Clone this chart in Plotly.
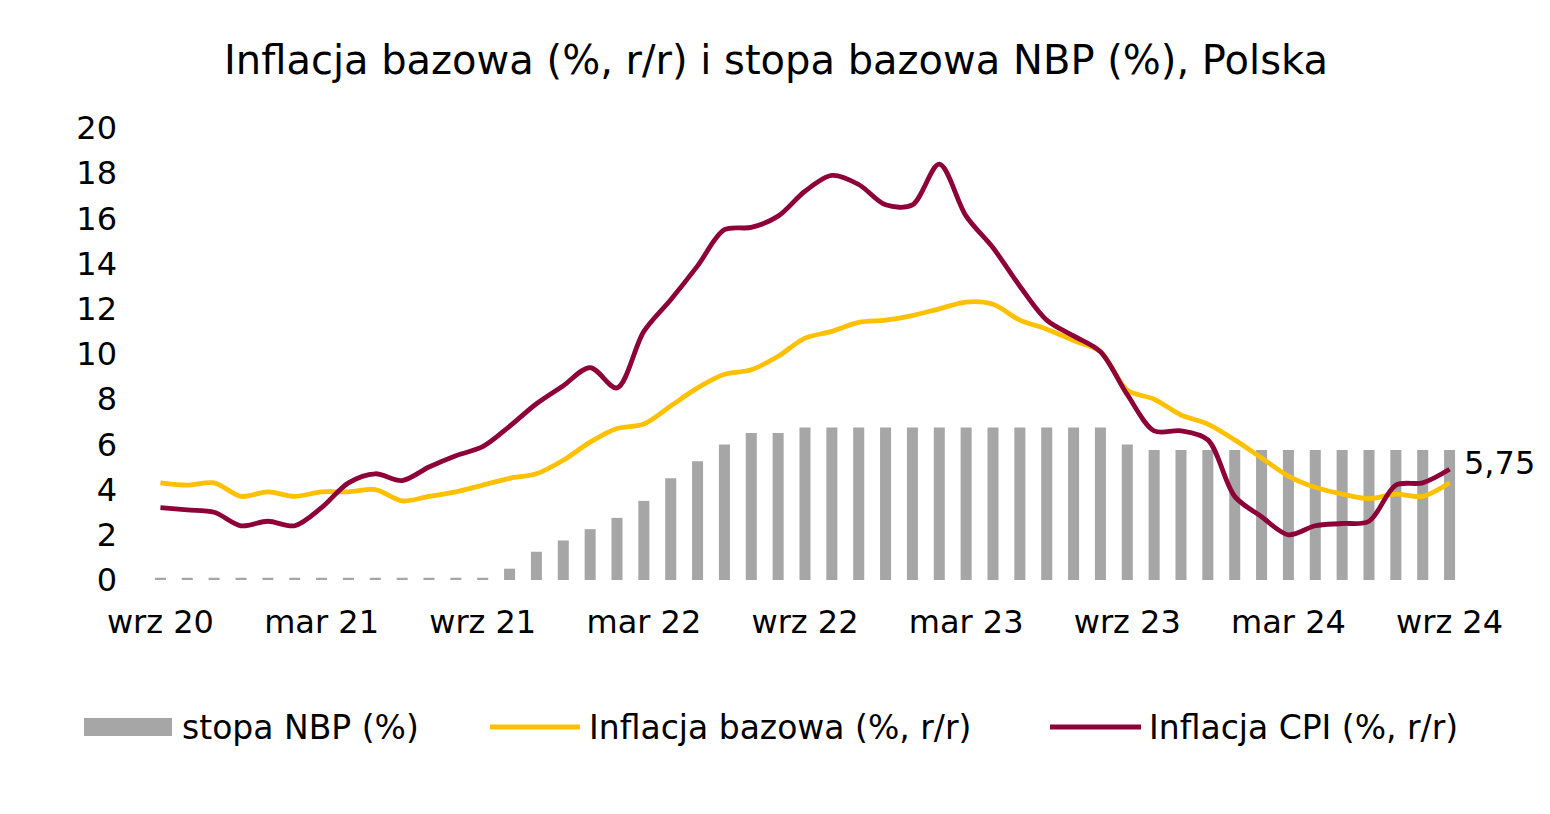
import plotly.graph_objects as go

months = [
    "wrz 20", "paź 20", "lis 20", "gru 20",
    "sty 21", "lut 21", "mar 21", "kwi 21", "maj 21", "cze 21", "lip 21", "sie 21", "wrz 21", "paź 21", "lis 21", "gru 21",
    "sty 22", "lut 22", "mar 22", "kwi 22", "maj 22", "cze 22", "lip 22", "sie 22", "wrz 22", "paź 22", "lis 22", "gru 22",
    "sty 23", "lut 23", "mar 23", "kwi 23", "maj 23", "cze 23", "lip 23", "sie 23", "wrz 23", "paź 23", "lis 23", "gru 23",
    "sty 24", "lut 24", "mar 24", "kwi 24", "maj 24", "cze 24", "lip 24", "sie 24", "wrz 24",
]

stopa_nbp = [
    0.1, 0.1, 0.1, 0.1,
    0.1, 0.1, 0.1, 0.1, 0.1, 0.1, 0.1, 0.1, 0.1, 0.5, 1.25, 1.75,
    2.25, 2.75, 3.5, 4.5, 5.25, 6.0, 6.5, 6.5, 6.75, 6.75, 6.75, 6.75,
    6.75, 6.75, 6.75, 6.75, 6.75, 6.75, 6.75, 6.75, 6.0, 5.75, 5.75, 5.75,
    5.75, 5.75, 5.75, 5.75, 5.75, 5.75, 5.75, 5.75, 5.75,
]

inflacja_bazowa = [
    4.3, 4.2, 4.3, 3.7,
    3.9, 3.7, 3.9, 3.9, 4.0, 3.5, 3.7, 3.9, 4.2, 4.5, 4.7, 5.3,
    6.1, 6.7, 6.9, 7.7, 8.5, 9.1, 9.3, 9.9, 10.7, 11.0, 11.4, 11.5,
    11.7, 12.0, 12.3, 12.2, 11.5, 11.1, 10.6, 10.1, 8.4, 8.0, 7.3, 6.9,
    6.2, 5.4, 4.6, 4.1, 3.8, 3.6, 3.8, 3.7, 4.3,
]

inflacja_cpi = [
    3.2, 3.1, 3.0, 2.4,
    2.6, 2.4, 3.2, 4.3, 4.7, 4.4, 5.0, 5.5, 5.9, 6.8, 7.8, 8.6,
    9.4, 8.5, 11.0, 12.4, 13.9, 15.5, 15.6, 16.1, 17.2, 17.9, 17.5, 16.6,
    16.6, 18.4, 16.1, 14.7, 13.0, 11.5, 10.8, 10.1, 8.2, 6.6, 6.6, 6.2,
    3.7, 2.8, 2.0, 2.4, 2.5, 2.6, 4.2, 4.3, 4.9,
]

tick_labels = ["wrz 20", "mar 21", "wrz 21", "mar 22", "wrz 22", "mar 23", "wrz 23", "mar 24", "wrz 24"]
last_label = "5,75"

# ---- layout geometry (screen px; page body has an 8px margin) ----
OFF = 8
W, H = 1550, 814
ML, MR, MT, MB = 139, 95, 120, 242
PW, PH = W - ML - MR, H - MT - MB
FONT = "Verdana, DejaVu Sans, sans-serif"
GRAY = "#A6A6A6"
YELLOW = "#FFC000"
MAROON = "#8E0038"
FS_TICK = 32
FS_LEG = 33


def px_x(px):
    return (px - OFF - ML) / PW


def px_y(py):
    return (H - MB - (py - OFF)) / PH


fig = go.Figure()
fig.add_trace(go.Bar(x=months, y=stopa_nbp, name="stopa NBP (%)",
                     marker=dict(color=GRAY, line=dict(width=0))))
fig.add_trace(go.Scatter(x=months, y=inflacja_bazowa, name="Inflacja bazowa (%, r/r)",
                         mode="lines", line=dict(color=YELLOW, width=4.8, shape="spline", smoothing=0.9)))
fig.add_trace(go.Scatter(x=months, y=inflacja_cpi, name="Inflacja CPI (%, r/r)",
                         mode="lines", line=dict(color=MAROON, width=4.8, shape="spline", smoothing=0.9)))

# data label for last NBP rate
fig.add_annotation(x=months[-1], y=stopa_nbp[-1], text=last_label, showarrow=False,
                   xanchor="left", yanchor="middle", xshift=12, yshift=-13,
                   font=dict(family=FONT, size=FS_TICK, color="#000000"))

# custom legend (symbols + texts)
leg_y = 727
legend_items = [
    ("rect", GRAY, 84, 172, "stopa NBP (%)", 180),
    ("line", YELLOW, 490, 580, "Inflacja bazowa (%, r/r)", 587),
    ("line", MAROON, 1050, 1141, "Inflacja CPI (%, r/r)", 1147),
]
for kind, col, x0, x1, txt, tx in legend_items:
    if kind == "rect":
        fig.add_shape(type="rect", xref="paper", yref="paper",
                      x0=px_x(x0), x1=px_x(x1), y0=px_y(leg_y + 9), y1=px_y(leg_y - 9),
                      fillcolor=col, line=dict(width=0))
    else:
        fig.add_shape(type="line", xref="paper", yref="paper",
                      x0=px_x(x0), x1=px_x(x1), y0=px_y(leg_y), y1=px_y(leg_y),
                      line=dict(color=col, width=5))
    fig.add_annotation(xref="paper", yref="paper", x=px_x(tx), y=px_y(leg_y), text=txt,
                       showarrow=False, xanchor="left", yanchor="middle",
                       font=dict(family=FONT, size=FS_LEG, color="#000000"))

fig.update_layout(
    width=W, height=H,
    margin=dict(l=ML, r=MR, t=MT, b=MB, pad=0),
    paper_bgcolor="white", plot_bgcolor="white",
    showlegend=False,
    bargap=0.59,
    font=dict(family=FONT, size=FS_TICK, color="#000000"),
    title=dict(text="Inflacja bazowa (%, r/r) i stopa bazowa NBP (%), Polska",
               x=(776 - OFF) / W, xref="container", xanchor="center",
               y=1 - (60 - OFF) / H, yref="container", yanchor="middle",
               font=dict(family=FONT, size=40, color="#000000")),
    xaxis=dict(type="category", categoryorder="array", categoryarray=months,
               tickmode="array", tickvals=tick_labels, ticktext=tick_labels,
               showgrid=False, zeroline=False, showline=False, ticks="",
               ticklabelstandoff=20, tickfont=dict(family=FONT, size=FS_TICK, color="#000000"),
               range=[-0.5, len(months) - 0.5]),
    yaxis=dict(range=[0, 20], tickmode="array", tickvals=list(range(0, 21, 2)),
               showgrid=False, zeroline=False, showline=False, ticks="",
               ticklabelstandoff=29, tickfont=dict(family=FONT, size=FS_TICK, color="#000000")),
)

fig.write_html("out.html")
